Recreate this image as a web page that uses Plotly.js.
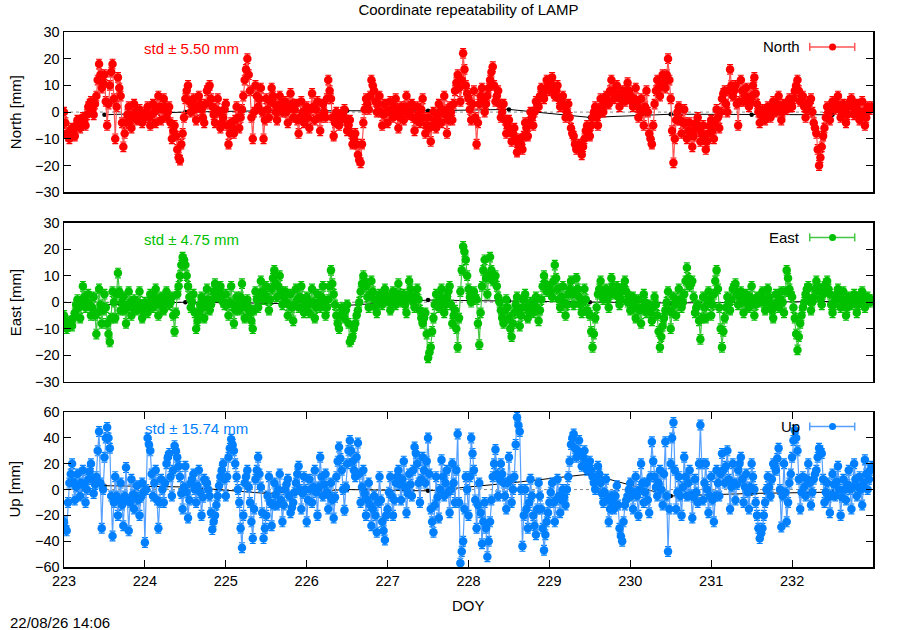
<!DOCTYPE html>
<html>
<head>
<meta charset="utf-8">
<script src="https://cdn.plot.ly/plotly-3.0.1.min.js"></script>
<style>html,body{margin:0;padding:0;background:#fff}#chart{width:900px;height:630px}</style>
</head>
<body>
<div id="chart"></div>
<script>
// ---- data (mm), 60 epochs per day starting at DOY 223.0 ----
const startDoy = 223;
const epochsPerDay = 60;
const north = [
  0,-4,-8,-9,-10,-7,-6,-8,-9,-5,-3,-5,-6,-3,-2,-4,-5,-1,2,3,4,1,-1,3,6,12,18,14,9,11,14,4,-5,3,10,15,18,5,-10,2,13,9,6,-4,-13,-8,-4,-1,2,-3,-6,-1,3,0,-3,-1,1,-2,-4,-2,
  -2,0,2,-2,-5,-1,3,0,-4,1,6,2,-3,1,5,2,-2,0,2,-4,-10,-7,-5,-9,-14,-17,-18,-12,-8,-2,5,8,10,4,0,3,5,1,-3,2,6,3,1,-2,-4,3,8,9,10,5,2,-1,-4,1,5,0,-6,-4,-2,1,
  3,-5,-12,-8,-4,-6,-8,-3,2,-2,-6,-2,1,6,12,16,20,14,8,-2,-10,0,10,6,2,5,9,0,-10,-3,5,1,-2,4,9,6,3,0,-3,2,6,3,0,2,4,0,-4,2,7,3,-2,1,3,-3,-8,-2,4,0,-4,0,
  2,-2,-6,1,7,2,-3,1,4,-2,-7,-2,3,0,-2,5,12,8,5,-2,-9,-4,0,-3,-5,-3,-1,0,1,-3,-7,-5,-3,-8,-12,-10,-8,-12,-16,-18,-19,-12,-4,1,5,3,1,6,12,10,8,4,0,3,6,0,-5,-1,3,0,
  -4,0,4,1,-2,2,5,0,-6,-2,2,0,-3,2,6,2,-1,1,3,-2,-7,-3,2,-1,-4,1,5,-2,-8,-5,-2,-6,-11,-5,0,-3,-6,-2,3,0,-4,1,6,-1,-8,-3,2,0,-3,3,8,11,14,9,4,12,22,16,10,7,
  5,1,-3,3,8,-2,-12,-4,3,6,9,4,0,3,6,9,12,15,17,10,4,6,8,3,-2,0,3,-3,-8,-5,-3,-7,-11,-8,-6,-10,-15,-12,-10,-12,-14,-9,-4,-6,-9,-4,0,-2,-5,0,4,3,2,6,9,7,5,8,12,10,
  8,11,13,9,6,8,10,5,2,4,6,2,-2,0,3,-2,-6,-8,-9,-12,-14,-13,-12,-14,-16,-13,-10,-7,-5,-7,-9,-5,-2,0,2,-2,-5,0,5,2,0,3,6,4,3,8,12,8,5,7,10,6,2,5,8,6,4,8,11,8,
  6,4,2,5,9,3,-2,1,5,0,-5,2,8,0,-8,-10,-12,-5,3,8,12,9,6,10,14,11,9,14,20,12,5,-7,-19,-10,-3,0,2,-3,-8,-4,1,-4,-10,-7,-4,-8,-13,-9,-6,-4,-2,-6,-11,-8,-5,-9,-14,-11,-8,-5,
  -3,-7,-10,-4,1,-2,-6,0,5,7,8,3,0,8,16,10,6,8,10,3,-5,4,12,8,4,6,9,5,2,4,6,10,13,7,3,0,-4,-1,1,-1,-3,0,2,0,-2,1,4,2,0,3,6,1,-3,0,3,2,1,3,5,2,
  2,5,8,10,12,8,4,5,6,2,-2,1,3,4,5,0,-4,-6,-8,-14,-20,-17,-13,-9,-6,-2,2,0,-3,1,4,2,1,3,6,2,-2,0,3,0,-4,-1,2,4,5,2,-1,1,3,0,-3,0,4,0,-5,-2,2,1,1,2
];
const east = [
  -5,-8,-10,-9,-7,-8,-9,-6,-4,-1,1,-2,-6,0,6,2,-2,0,3,-1,-5,-2,2,-5,-12,-4,5,-1,-8,-3,3,-2,-8,-12,-15,-6,4,0,-6,3,11,4,-3,0,2,-3,-8,-2,4,0,-5,-2,1,-1,-3,0,4,-1,-6,-3,
  0,-2,-4,0,3,0,-2,2,5,0,-5,-1,2,0,-3,1,4,1,-1,0,2,-5,-11,-4,3,6,10,14,17,16,14,10,6,2,-2,0,3,-4,-10,-7,-4,-1,2,-2,-6,0,5,1,-3,-1,1,4,7,4,2,4,6,3,0,-1,
  3,-1,-5,0,6,-1,-8,-3,2,-1,-3,2,7,0,-6,-2,1,-2,-4,-7,-10,-3,4,1,-2,3,8,4,1,3,6,1,-3,1,5,9,12,7,2,6,10,4,-1,2,4,0,-5,-1,3,-2,-7,-1,5,1,-2,2,6,1,-4,-1,
  2,-1,-4,0,5,0,-6,-2,3,0,-2,2,6,0,-5,-2,1,6,12,7,3,-1,-5,-8,-10,-5,-2,-4,-6,-3,-1,-8,-15,-14,-13,-10,-8,-5,-3,0,4,7,10,8,6,2,-2,3,8,4,1,-2,-4,0,3,1,-1,2,5,2,
  2,0,-3,1,4,1,-1,3,7,3,0,2,3,-1,-4,2,8,5,2,0,-2,2,5,1,-3,-6,-8,-6,-4,-12,-21,-19,-17,-11,-6,-1,3,0,-2,2,5,0,-4,-1,2,4,6,-1,-8,-5,-3,-10,-17,-6,4,12,21,19,16,10,
  5,2,0,2,4,2,1,-8,-16,-4,6,12,16,9,3,10,17,12,8,9,10,6,2,0,-3,-6,-8,-3,1,-2,-6,-10,-13,-8,-4,-1,2,-4,-9,-5,-2,1,3,-2,-6,-3,0,-2,-4,-1,2,-3,-7,-3,1,6,10,7,4,5,
  6,4,2,8,14,9,5,1,-2,2,6,0,-5,-1,3,5,8,3,-1,4,9,5,2,-1,-4,0,5,1,-3,-4,-5,-11,-17,-12,-6,-2,3,5,8,4,1,3,5,1,-2,3,9,6,3,4,6,2,-1,1,4,6,8,4,0,2,
  -3,0,2,-2,-6,-2,1,-3,-8,-2,3,0,-4,-2,-1,-4,-7,-2,2,-1,-5,-11,-17,-13,-9,-6,-3,0,4,-3,-10,-4,2,-1,-5,0,5,1,-2,0,3,8,13,9,6,7,8,2,-4,-2,-1,-7,-14,-6,2,-2,-6,-1,4,1,
  -5,-1,3,8,12,5,-2,-10,-17,-11,-6,-2,2,0,-3,1,5,6,7,3,-1,2,4,0,-4,0,3,0,-2,2,6,0,-5,-1,2,1,0,2,4,0,-3,1,5,2,-1,-3,-6,-1,3,0,-2,1,4,0,-4,4,12,9,5,3,
  2,-2,-6,-12,-18,-13,-8,-5,-2,0,3,5,6,1,-3,0,2,5,8,6,4,1,-1,3,6,7,8,5,3,-1,-4,-1,1,3,5,1,-2,1,4,0,-5,-2,2,0,-1,1,3,0,-4,-1,1,3,4,1,-2,0,2,1,0,1
];
const up = [
  -25,-30,-32,-10,5,12,20,6,-8,2,12,4,-5,5,15,3,-10,0,8,14,20,8,-3,4,10,30,45,5,-30,0,25,40,48,40,32,-5,-36,-10,10,-5,-20,-8,5,-12,-28,-5,17,-8,-32,-10,8,-4,-15,-5,3,-8,-20,-6,5,-2,
  -41,0,40,35,30,12,-5,5,15,-8,-30,-10,8,0,-10,5,20,25,28,10,-5,15,34,30,25,18,10,-3,-15,2,18,-2,-22,-8,5,8,12,0,-10,3,15,-2,-20,-6,8,6,5,0,-5,-18,-31,-25,-20,-12,-5,3,10,15,20,8,
  -5,10,25,32,39,35,30,20,10,0,-10,-30,-45,-20,5,10,15,2,-10,-25,-38,-15,8,15,25,12,2,-18,-38,-30,-20,-5,10,-10,-28,-12,5,-4,-12,0,12,-8,-25,-12,0,4,8,-5,-18,-14,-10,-2,5,12,18,0,-15,-3,10,0,
  -25,-8,8,0,-10,2,15,-2,-20,2,25,10,-5,4,12,-2,-15,-5,5,-8,-22,-6,10,22,33,24,15,0,-16,2,20,30,38,30,22,15,10,25,36,12,-10,2,15,-3,-20,-8,5,-12,-28,-15,-5,-20,-33,-10,10,-8,-25,-32,-39,-20,
  -15,-2,10,-5,-20,-8,5,10,15,4,-8,8,22,2,-18,-3,12,4,-5,15,33,28,20,5,-10,8,25,15,5,22,40,12,-15,-25,-33,-12,10,-6,-22,0,23,10,-5,5,15,-2,-18,0,20,5,-10,15,43,-10,-57,-48,-40,-15,10,0,
  -20,10,40,28,15,-8,-30,-12,5,-18,-42,-25,-10,-30,-52,-40,-25,-8,10,20,31,12,-5,8,20,12,5,-5,-15,5,25,8,-10,0,10,35,56,50,45,0,-44,-20,0,-15,-30,-10,8,-5,-20,-28,-35,-15,5,-5,-15,-30,-47,-35,-25,-18,
  -10,-2,5,-10,-25,-8,8,-5,-18,-8,0,-6,-12,0,10,22,35,40,43,32,25,30,38,28,18,25,30,22,15,18,22,15,10,5,0,10,18,12,5,-3,-10,-2,8,-8,-25,-15,-5,-10,-15,-5,3,-12,-30,-36,-40,-25,-12,-8,-5,0,
  5,-5,-15,-2,10,-5,-20,0,20,5,-10,-2,5,-8,-18,10,37,22,10,2,-5,5,15,0,-12,12,37,-5,-48,-15,20,40,52,15,-15,-2,10,-5,-20,2,25,10,-5,5,15,-4,-22,-6,8,-2,-10,20,50,20,-8,5,20,0,-18,-5,
  10,-8,-25,-5,15,5,-5,12,28,15,5,18,30,8,-15,2,20,5,-8,4,15,20,25,8,-10,2,12,-2,-15,2,20,10,0,-10,-20,-30,-38,-34,-30,-20,-10,0,10,2,-5,8,20,18,15,24,32,0,-29,-5,20,-2,-25,-10,5,12,
  25,38,46,40,30,8,-15,-2,10,2,-5,8,20,5,-12,-2,8,12,15,25,32,30,28,8,-10,-2,5,-6,-18,-4,12,4,-5,6,18,0,-20,-6,8,0,-8,4,15,0,-15,2,20,8,-5,2,10,0,-12,5,23,12,0,8,15,18
];
// daily mean (black line)
const meanDoy   = [223.5,224.5,225.5,226.5,227.5,228.5,229.5,230.5,231.5,232.5];
const northMean = [-1,0,0.5,0.6,0.5,1,-2,-0.8,-1,-1];
const eastMean  = [-1,0,-0.4,-1.2,0.8,0.5,0,-0.3,0,0.3];
const upMean    = [3,2,-3,0,-1,5,12,-5,-3,-2];
const xTicks = [223,224,225,226,227,228,229,230,231,232];
const stdLabels = ['std \u00b1 5.50 mm','std \u00b1 4.75 mm','std \u00b1 15.74 mm'];
const legendNames = ['North','East','Up'];
const axisTitles = ['North [mm]','East [mm]','Up [mm]'];
const timestamp = '22/08/26 14:06';
const chartTitle = 'Coordinate repeatability of LAMP';

const doy = north.map((_, i) => startDoy + i / epochsPerDay);

const FONT = 'Liberation Sans, Arial, Helvetica, sans-serif';
const panels = [
  {y: north, mean: northMean, color: '#ff0000', light: '#ff5555', err: 1.8, xa: 'x',  ya: 'y'},
  {y: east,  mean: eastMean,  color: '#00c000', light: '#44c844', err: 1.8, xa: 'x2', ya: 'y2'},
  {y: up,    mean: upMean,    color: '#0080ff', light: '#55a0ff', err: 3.8, xa: 'x3', ya: 'y3'}
];

const traces = [];
panels.forEach(p => {
  traces.push({type:'scatter', mode:'lines+markers', x: meanDoy, y: p.mean, xaxis:p.xa, yaxis:p.ya,
    line:{color:'#000', width:1}, marker:{color:'#000', size:4.5}, showlegend:false, hoverinfo:'skip'});
  traces.push({type:'scatter', mode:'lines+markers', x: doy, y: p.y, xaxis:p.xa, yaxis:p.ya,
    line:{color:p.light, width:1.2}, marker:{color:p.color, size:8.5, line:{width:0}},
    error_y:{type:'constant', value:p.err, color:p.color, thickness:1.2, width:3},
    showlegend:false, hoverinfo:'skip'});
});

const shapes = [], annotations = [];
panels.forEach((p, k) => {
  const xd = (k === 0 ? 'x' : 'x' + (k + 1)) + ' domain';
  const yd = (k === 0 ? 'y' : 'y' + (k + 1)) + ' domain';
  const yr = k === 0 ? 'y' : 'y' + (k + 1);
  shapes.push({type:'line', xref:xd, yref:yr, x0:0, x1:1, y0:0, y1:0, layer:'below',
    line:{color:'#888', width:1, dash:'dot'}});
  const ly = 0.907;
  shapes.push({type:'line', xref:xd, yref:yd, x0:0.9218, x1:0.9774, y0:ly, y1:ly, line:{color:p.light, width:1.5}});
  [0.9218, 0.9774].forEach(cx => shapes.push({type:'line', xref:xd, yref:yd, ysizemode:'pixel', yanchor:ly,
    x0:cx, x1:cx, y0:-4, y1:4, line:{color:p.light, width:1.5}}));
  shapes.push({type:'circle', xref:xd, yref:yd, xsizemode:'pixel', ysizemode:'pixel', xanchor:0.950, yanchor:ly,
    x0:-3.5, x1:3.5, y0:-3.5, y1:3.5, fillcolor:p.color, line:{width:0}});
  annotations.push({xref:xd, yref:yd, x:0.912, y:ly, xanchor:'right', yanchor:'middle', showarrow:false,
    text:legendNames[k], font:{family:FONT, size:15, color:'#000'}});
  annotations.push({xref:xd, yref:yd, x:k === 2 ? 0.164 : 0.158, y:0.896, xanchor:'center', yanchor:'middle', showarrow:false,
    text:stdLabels[k], font:{family:FONT, size:15, color:p.color}});
  annotations.push({xref:'paper', yref:yd, x:-0.0605, y:0.5, xanchor:'center', yanchor:'middle', textangle:-90,
    showarrow:false, text:axisTitles[k], font:{family:FONT, size:15, color:'#000'}});
});
annotations.push({xref:'paper', yref:'paper', x:0.5, y:-0.0716, xanchor:'center', yanchor:'middle', showarrow:false,
  text:'DOY', font:{family:FONT, size:15, color:'#000'}});
annotations.push({xref:'paper', yref:'paper', x:-0.0692, y:-0.1034, xanchor:'left', yanchor:'middle', showarrow:false,
  text:timestamp, font:{family:FONT, size:15, color:'#000'}});

const yBase = {ticks:'inside', ticklen:7, tickwidth:1, tickcolor:'#000', mirror:'ticks', showline:true,
  linecolor:'#000', linewidth:1.5, zeroline:false, showgrid:false, tickfont:{family:FONT, size:14.5, color:'#000'},
  fixedrange:true};
const xBase = {range:[223,233], tickmode:'array', tickvals:xTicks, showline:true, linecolor:'#000', linewidth:1.5,
  zeroline:false, showgrid:false, tickfont:{family:FONT, size:14.5, color:'#000'}, fixedrange:true};

const layout = {
  width:900, height:630, paper_bgcolor:'#fff', plot_bgcolor:'#fff',
  margin:{l:64, r:26.7, t:32.3, b:63.3, pad:0},
  title:{text:chartTitle, font:{family:FONT, size:15, color:'#000'}, xref:'paper', x:0.5, xanchor:'center',
    yref:'container', y:0.984, yanchor:'middle'},
  xaxis: Object.assign({}, xBase, {anchor:'y', mirror:true, ticks:'', showticklabels:false}),
  xaxis2:Object.assign({}, xBase, {anchor:'y2', mirror:true, ticks:'', showticklabels:false, matches:'x'}),
  xaxis3:Object.assign({}, xBase, {anchor:'y3', mirror:'ticks', ticks:'inside', ticklen:7, tickcolor:'#000', matches:'x'}),
  yaxis: Object.assign({}, yBase, {domain:[0.7006,1], range:[-30,30], dtick:10, tick0:0, anchor:'x'}),
  yaxis2:Object.assign({}, yBase, {domain:[0.3462,0.6437], range:[-30,30], dtick:10, tick0:0, anchor:'x2'}),
  yaxis3:Object.assign({}, yBase, {domain:[0,0.2895], range:[-60,60], dtick:20, tick0:0, anchor:'x3'}),
  shapes, annotations, showlegend:false
};

Plotly.newPlot('chart', traces, layout, {staticPlot:true, displayModeBar:false});
</script>
</body>
</html>
